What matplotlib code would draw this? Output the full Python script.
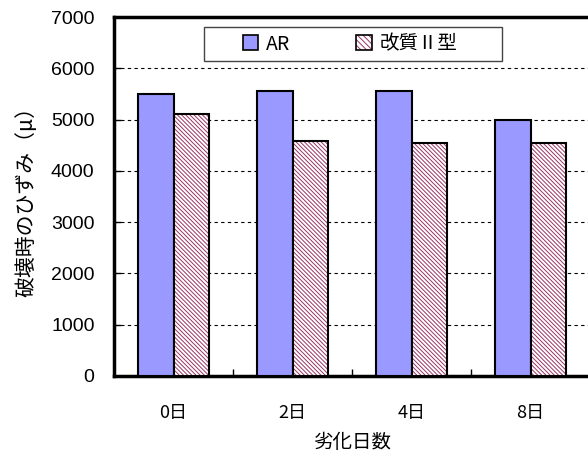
import matplotlib
matplotlib.use("Agg")
import matplotlib.pyplot as plt
from matplotlib.patches import Patch, Rectangle
from matplotlib.legend_handler import HandlerTuple
import numpy as np

categories = ["0日", "2日", "4日", "8日"]
series_names = ["AR", "改質Ⅱ型"]
ar_values = [5500, 5550, 5550, 5000]
kaishitsu_values = [5100, 4580, 4550, 4550]
yticks = [0, 1000, 2000, 3000, 4000, 5000, 6000, 7000]

HATCH_COLOR = '#993366'
plt.rcParams['hatch.linewidth'] = 0.7
jp = ['Noto Sans CJK JP', 'DejaVu Sans']
hatch = '\\' * 8

W, H = 588, 457
fig = plt.figure(figsize=(W / 100, H / 100), dpi=100)
left, right, top, bottom = 114, 590, 17, 376
ax = fig.add_axes([left / W, 1 - bottom / H, (right - left) / W, (bottom - top) / H])

x = np.arange(len(categories))
bw = 0.295
ax.bar(x - bw / 2, ar_values, bw, color='#9999FF', edgecolor='black', linewidth=1.5, zorder=3)
ax.bar(x + bw / 2, kaishitsu_values, bw, color='white', edgecolor=HATCH_COLOR, linewidth=0,
       hatch=hatch, zorder=3)
ax.bar(x + bw / 2, kaishitsu_values, bw, fill=False, edgecolor='black', linewidth=1.5, zorder=4)

ax.set_xlim(-0.5, len(categories) - 0.5)
ax.set_ylim(0, 7000)
ax.set_yticks(yticks)
ax.set_yticklabels([str(v) for v in yticks], fontfamily='Liberation Sans', fontsize=14)
ax.set_xticks(x)
ax.set_xticklabels(categories, fontfamily=jp, fontsize=13)
ax.set_xticks(np.arange(0.5, len(categories) - 0.5, 1.0), minor=True)
ax.tick_params(axis='x', which='major', length=0, pad=20)
ax.tick_params(axis='x', which='minor', direction='in', length=5, width=1)
ax.tick_params(axis='y', direction='in', length=5, width=1, pad=14)

for v in yticks[1:-1]:
    ax.axhline(v, color='black', linestyle=(0, (3, 3)), linewidth=0.8, zorder=1)

for s in ['left', 'bottom', 'top']:
    ax.spines[s].set_linewidth(2.5)
ax.spines['right'].set_visible(False)

ax.set_xlabel("劣化日数", fontfamily=jp, fontsize=14, labelpad=7)
ax.set_ylabel("破壊時のひずみ（μ）", fontfamily=jp, fontsize=15, labelpad=10)

# legend
h_ar = Patch(facecolor='#9999FF', edgecolor='black', linewidth=1.2)
h_k = (Patch(facecolor='white', edgecolor=HATCH_COLOR, linewidth=0, hatch='\\' * 6),
       Patch(fill=False, edgecolor='black', linewidth=1.2))
leg = ax.legend([h_ar, h_k], series_names, loc='center',
                bbox_to_anchor=(350 / W, 1 - 44 / H), bbox_transform=fig.transFigure,
                ncol=2, frameon=False,
                handler_map={tuple: HandlerTuple(ndivide=1, pad=0)},
                prop={'family': jp, 'size': 14}, handlelength=0.8, handleheight=0.8,
                columnspacing=3.4, handletextpad=0.4)
leg.set_zorder(6)
frame = Rectangle((204 / W, 1 - 61 / H), (502 - 204) / W, (61 - 27) / H,
                  transform=fig.transFigure, fill=True, facecolor='white',
                  edgecolor='#444444', linewidth=1.0, zorder=5, clip_on=False)
ax.add_patch(frame)

fig.savefig("out.png", dpi=100)
